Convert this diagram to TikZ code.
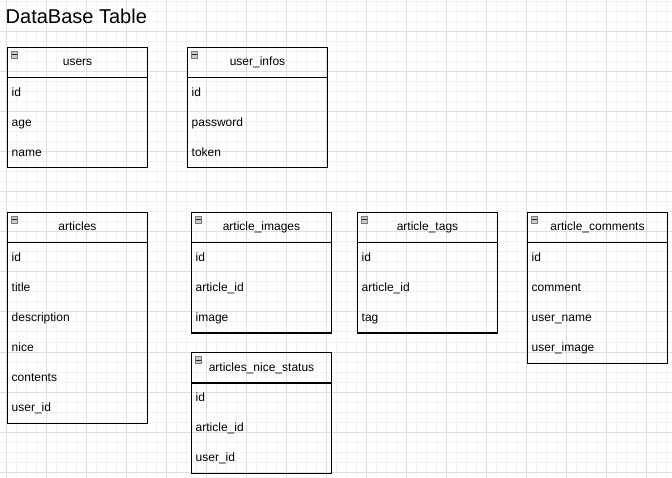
\documentclass[tikz,border=0pt]{standalone}
\usepackage{fontspec}
\setmainfont{Liberation Sans}
\usepackage{xcolor}
\usepackage{tikz}

\definecolor{gridminor}{HTML}{F3F3F3}
\definecolor{gridmajor}{HTML}{DEDEDE}
\definecolor{iconfill}{HTML}{CACACA}
\definecolor{icondraw}{HTML}{7A7A7A}

% one table: name, x, y, number of rows, title, fields
\newcommand{\dbtable}[6]{%
  \node[tblhead, anchor=north west] (#1) at (#2,#3) {#5};
  \draw[tblline] (#1.south west) rectangle ++(140,30*#4);
  \node[minusbox] (#1-icon) at ({#2+7.5},{#3+8}) {};
  \draw[minusline] ([xshift=1.4pt]#1-icon.west) -- ([xshift=-1.4pt]#1-icon.east);
  \foreach \f [count=\i] in {#6}
    \node[tblfield] (#1-\i) at ({#2+4.5},{#3+19.5+30*\i}) {\f};
}

\begin{document}
\begin{tikzpicture}[x=1pt, y=-1pt,
    tblline/.style={line width=1pt},
    tblhead/.style={draw, line width=1pt, minimum width=140pt, minimum height=30pt,
      inner sep=0pt, text height=9pt, text depth=2pt, font=\fontsize{12}{14}\selectfont},
    tblfield/.style={anchor=base west, inner sep=0pt, font=\fontsize{12}{14}\selectfont},
    minusbox/.style={draw=icondraw, fill=iconfill, line width=0.6pt, minimum size=6.5pt, inner sep=0pt},
    minusline/.style={line width=1pt, black!85}]

        % Draw the page and the background grid
        \fill[white] (0,0) rectangle (672,478);
        \useasboundingbox (0,0) rectangle (672,478);
        \foreach \gx in {6,16,...,666} \draw[gridminor, line width=1pt] (\gx,0) -- (\gx,478);
        \foreach \gy in {2,12,...,472} \draw[gridminor, line width=1pt] (0,\gy) -- (672,\gy);
        \foreach \gx in {6,46,...,646} \draw[gridmajor, line width=1pt] (\gx,0) -- (\gx,478);
        \foreach \gy in {32,72,...,472} \draw[gridmajor, line width=1pt] (0,\gy) -- (672,\gy);

        % Draw the title
        \node[anchor=base west, inner sep=0pt, font=\fontsize{20}{24}\selectfont] (title) at (5.5,24) {DataBase Table};

        % Draw the user tables
        \dbtable{users}{7}{47}{3}{users}{id, age, name}
        \dbtable{userinfos}{187}{47}{3}{user\_infos}{id, password, token}

        % Draw the article tables
        \dbtable{articles}{7}{212}{6}{articles}{id, title, description, nice, contents, user\_id}
        \dbtable{artimages}{191}{212}{3}{article\_images}{id, article\_id, image}
        \dbtable{arttags}{357}{212}{3}{article\_tags}{id, article\_id, tag}
        \dbtable{artcomments}{527}{212}{4}{article\_comments}{id, comment, user\_name, user\_image}
        \dbtable{nicestatus}{191}{352}{3}{articles\_nice\_status}{id, article\_id, user\_id}
    \end{tikzpicture}
\end{document}
